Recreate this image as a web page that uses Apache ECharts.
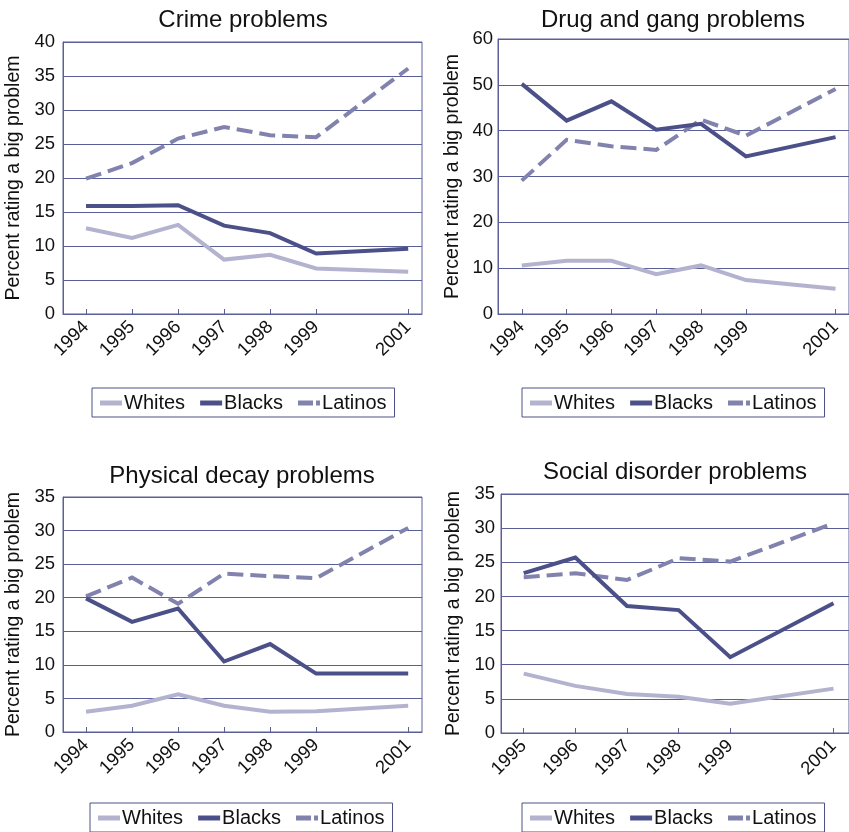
<!DOCTYPE html>
<html>
<head>
<meta charset="utf-8">
<script src="https://cdn.jsdelivr.net/npm/echarts@6/dist/echarts.min.js"></script>
<style>
  html, body { margin: 0; padding: 0; background: #ffffff; }
  #chart { width: 849px; height: 832px; }
</style>
</head>
<body>
<div id="chart"></div>
<script>
// Survey years per panel
const yearsFull = [1994, 1995, 1996, 1997, 1998, 1999, 2001];
const yearsSocial = [1995, 1996, 1997, 1998, 1999, 2001];

// Crime problems
const crimeWhites = [12.6, 11.2, 13.1, 8.0, 8.7, 6.7, 6.2];
const crimeBlacks = [15.9, 15.9, 16.0, 13.0, 11.9, 8.9, 9.6];
const crimeLatinos = [19.9, 22.2, 25.8, 27.5, 26.3, 26.0, 36.1];

// Drug and gang problems
const drugWhites = [10.6, 11.6, 11.6, 8.7, 10.6, 7.4, 5.5];
const drugBlacks = [50.2, 42.2, 46.4, 40.2, 41.5, 34.4, 38.6];
const drugLatinos = [29.1, 38.0, 36.6, 35.8, 42.4, 38.9, 49.1];

// Physical decay problems
const decayWhites = [3.0, 3.9, 5.6, 3.9, 3.0, 3.1, 3.9];
const decayBlacks = [19.9, 16.4, 18.4, 10.5, 13.1, 8.7, 8.7];
const decayLatinos = [20.2, 23.0, 19.1, 23.6, 23.2, 22.9, 30.4];

// Social disorder problems
const socialWhites = [8.7, 6.9, 5.7, 5.3, 4.3, 6.5];
const socialBlacks = [23.4, 25.7, 18.6, 18.0, 11.1, 19.0];
const socialLatinos = [22.8, 23.4, 22.4, 25.6, 25.1, 30.7];

const panelTitles = ['Crime problems', 'Drug and gang problems', 'Physical decay problems', 'Social disorder problems'];
const groupNames = ['Whites', 'Blacks', 'Latinos'];
const yAxisName = 'Percent rating a big problem';
const yMax = [40, 60, 35, 35];
const yStep = [5, 10, 5, 5];

const panels = [
  { years: yearsFull, values: [crimeWhites, crimeBlacks, crimeLatinos] },
  { years: yearsFull, values: [drugWhites, drugBlacks, drugLatinos] },
  { years: yearsFull, values: [decayWhites, decayBlacks, decayLatinos] },
  { years: yearsSocial, values: [socialWhites, socialBlacks, socialLatinos] }
];

// Layout of each plotting area (pixels) and its year span
const frames = [
  { left: 63, top: 42, width: 359, height: 272, xMin: 1993.5, xMax: 2001.3, nameGap: 39, labelMargin: 8, titleX: 238, titleY: 3, legendX: 92, legendY: 388 },
  { left: 498, top: 39, width: 356, height: 275, xMin: 1993.47, xMax: 2001.3, nameGap: 35, labelMargin: 5, titleX: 668, titleY: 3, legendX: 522, legendY: 388 },
  { left: 63, top: 497, width: 359, height: 235, xMin: 1993.5, xMax: 2001.3, nameGap: 39, labelMargin: 8, titleX: 237, titleY: 459, legendX: 90, legendY: 803 },
  { left: 501, top: 494, width: 350, height: 239, xMin: 1994.56, xMax: 2001.3, nameGap: 37, labelMargin: 6, titleX: 670, titleY: 455, legendX: 522, legendY: 803 }
];

const colors = ['#b3b3cf', '#4c5088', '#8182ad'];
const axisColor = '#5b5f98';
const fontFamily = '"Liberation Sans", Arial, sans-serif';
// Legend keys: solid bars for the solid lines, a long and a short dash for the dashed one
const legendIcons = ['rect', 'rect', 'path://M0,0H15V5H0Z M18,0H22V5H18Z'];

const option = {
  animation: false,
  backgroundColor: '#ffffff',
  textStyle: { fontFamily: fontFamily },
  title: [],
  legend: [],
  grid: [],
  xAxis: [],
  yAxis: [],
  series: []
};

frames.forEach((f, i) => {
  option.title.push({
    text: panelTitles[i],
    left: f.titleX,
    top: f.titleY,
    textAlign: 'center',
    textStyle: { fontFamily: fontFamily, fontSize: 24, fontWeight: 'normal', color: '#111111' }
  });
  option.legend.push({
    data: groupNames.map((n, k) => ({ name: n, icon: legendIcons[k] })),
    left: f.legendX,
    top: f.legendY,
    orient: 'horizontal',
    borderColor: '#4c5088',
    borderWidth: 1,
    borderRadius: 0,
    padding: [5, 8, 4, 8],
    itemGap: 15,
    itemWidth: 22,
    itemHeight: 5,
    selectedMode: false,
    textStyle: { fontFamily: fontFamily, fontSize: 20, color: '#111111', padding: [0, 0, 0, -3] }
  });
  option.grid.push({
    left: f.left,
    top: f.top,
    width: f.width,
    height: f.height,
    show: true,
    borderColor: axisColor,
    borderWidth: 1,
    backgroundColor: 'transparent',
    containLabel: false
  });
  const yrs = panels[i].years;
  option.xAxis.push({
    type: 'value',
    gridIndex: i,
    min: f.xMin,
    max: f.xMax,
    splitLine: { show: false },
    axisLine: { show: true, lineStyle: { color: axisColor, width: 1 } },
    axisTick: { show: true, inside: true, length: 5, customValues: yrs, lineStyle: { color: axisColor } },
    axisLabel: {
      customValues: yrs,
      rotate: 45,
      margin: 10,
      fontFamily: fontFamily,
      fontSize: 18.5,
      color: '#111111',
      formatter: v => String(v)
    }
  });
  option.yAxis.push({
    type: 'value',
    gridIndex: i,
    min: 0,
    max: yMax[i],
    interval: yStep[i],
    name: yAxisName,
    nameLocation: 'middle',
    nameGap: f.nameGap,
    nameRotate: 90,
    nameTextStyle: { fontFamily: fontFamily, fontSize: 19.5, color: '#111111' },
    axisLine: { show: true, lineStyle: { color: axisColor, width: 1 } },
    axisTick: { show: false },
    splitLine: { show: true, lineStyle: { color: axisColor, width: 1 } },
    axisLabel: { margin: f.labelMargin, fontFamily: fontFamily, fontSize: 18.5, color: '#111111' }
  });
  groupNames.forEach((name, k) => {
    option.series.push({
      name: name,
      type: 'line',
      xAxisIndex: i,
      yAxisIndex: i,
      data: yrs.map((y, j) => [y, panels[i].values[k][j]]),
      symbol: 'none',
      smooth: false,
      color: colors[k],
      z: 3 - k,
      lineStyle: {
        color: colors[k],
        width: 4,
        type: k === 2 ? [16, 7] : 'solid',
        cap: 'butt',
        join: 'miter'
      }
    });
  });
});

const chart = echarts.init(document.getElementById('chart'), null, { renderer: 'canvas' });
chart.setOption(option);
</script>
</body>
</html>
